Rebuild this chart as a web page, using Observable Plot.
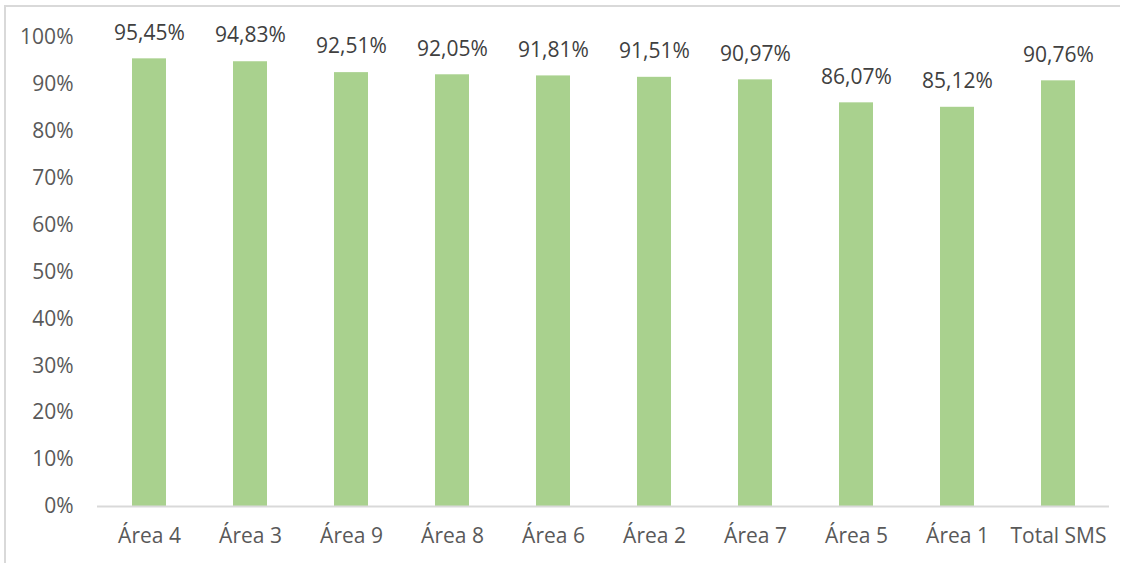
<!DOCTYPE html>
<html>
<head>
<meta charset="utf-8">
<script src="https://cdn.jsdelivr.net/npm/d3@7"></script>
<script src="https://cdn.jsdelivr.net/npm/@observablehq/plot@0.6"></script>
<style>
  html, body { margin: 0; padding: 0; background: #fff; }
  #wrap { position: relative; width: 1130px; height: 563px; overflow: hidden; }
  #frame { position: absolute; left: 4px; top: 5px; width: 1116px; height: 600px;
           border-top: 2px solid #D9D9D9; border-left: 2px solid #D9D9D9; box-sizing: border-box; }
  #chart { position: absolute; left: 0; top: 0; }
</style>
</head>
<body>
<div id="wrap"><div id="frame"></div><div id="chart"></div></div>
<script>
const categories = ["Área 4", "Área 3", "Área 9", "Área 8", "Área 6", "Área 2", "Área 7", "Área 5", "Área 1", "Total SMS"];
const values = [0.9545, 0.9483, 0.9251, 0.9205, 0.9181, 0.9151, 0.9097, 0.8607, 0.8512, 0.9076];
const valueLabels = ["95,45%", "94,83%", "92,51%", "92,05%", "91,81%", "91,51%", "90,97%", "86,07%", "85,12%", "90,76%"];
const yTicks = [0, 0.1, 0.2, 0.3, 0.4, 0.5, 0.6, 0.7, 0.8, 0.9, 1.0];

const data = categories.map((c, i) => ({category: c, value: values[i], label: valueLabels[i]}));

const chart = Plot.plot({
  width: 1130,
  height: 563,
  marginLeft: 97,
  marginRight: 21,
  marginTop: 37,
  marginBottom: 57,
  style: {fontFamily: "'Open Sans', sans-serif", fontSize: "21px", color: "#595959", background: "transparent"},
  x: {domain: categories, paddingInner: 0.667, paddingOuter: 0.333, label: null},
  y: {domain: [0, 1], label: null},
  marks: [
    Plot.barY(data, {x: "category", y: "value", fill: "#A9D18E"}),
    Plot.ruleY([0], {stroke: "#D9D9D9", strokeWidth: 2}),
    Plot.axisY({ticks: yTicks, tickFormat: d => Math.round(d * 100) + "%", tickSize: 0, tickPadding: 24, label: null, fill: "#595959", fontSize: 21}),
    Plot.axisX({tickSize: 0, tickPadding: 22, label: null, fill: "#595959", fontSize: 21}),
    Plot.text(data, {x: "category", y: "value", text: "label", dy: -26, fill: "#404040", fontSize: 21})
  ]
});
document.getElementById("chart").appendChild(chart);
</script>
</body>
</html>
